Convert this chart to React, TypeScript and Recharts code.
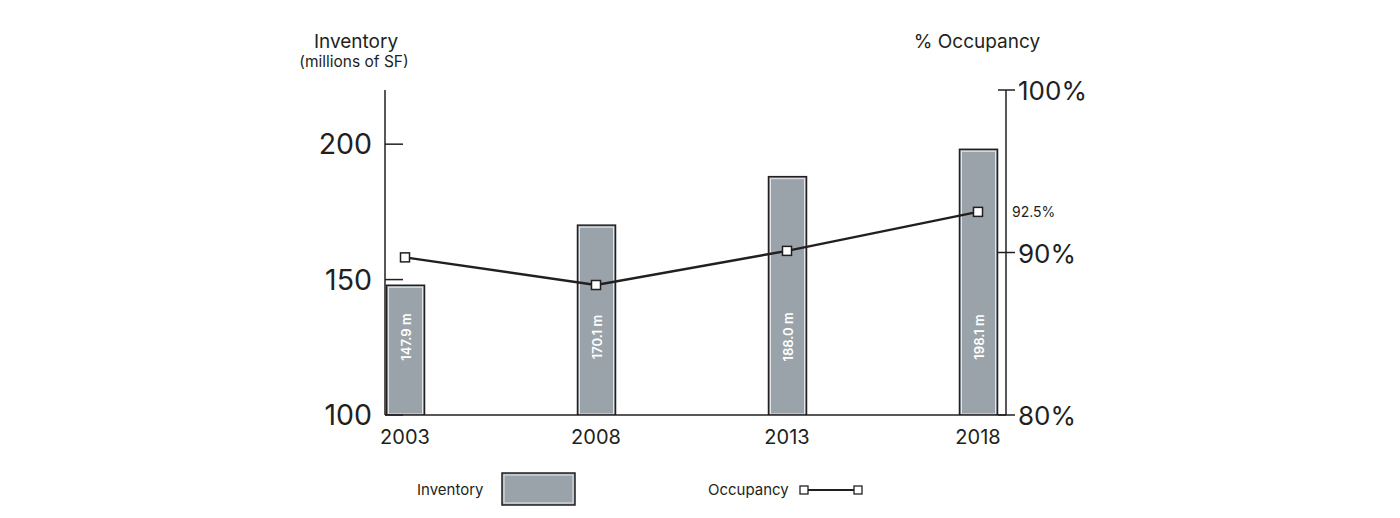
import React from 'react';
import { ComposedChart, Bar, Line, XAxis, YAxis } from 'recharts';

// Data
const years = [2003, 2008, 2013, 2018];
const inventory = [147.9, 170.1, 188.0, 198.1]; // millions of SF
const occupancy = [89.7, 88.0, 90.1, 92.5]; // percent
const inventoryTicks = [100, 150, 200];
const occupancyTicks = [80, 90, 100];

const data = years.map((year, i) => ({
  year,
  inventory: inventory[i],
  occupancy: occupancy[i],
}));

const INK = '#231f20';
const BAR = '#9ba3aa';
const BAR_EDGE = '#e2e7eb';
const FONT = 'Inter, "Noto Sans", Arial, sans-serif';

// Bar with dark outline, thin light inner edge and a rotated value label
const InventoryBar = (props: any) => {
  const { x, y, width, height, payload } = props;
  const cx = x + width / 2;
  const cy = y + height - 78;
  return (
    <g>
      <rect x={x} y={y} width={width} height={height} fill={BAR} stroke={INK} strokeWidth={1.5} />
      <rect x={x + 2} y={y + 2} width={width - 4} height={height - 3} fill="none" stroke={BAR_EDGE} strokeWidth={1} />
      <text
        x={cx}
        y={cy}
        transform={`rotate(-90 ${cx} ${cy})`}
        textAnchor="middle"
        dominantBaseline="central"
        fill="#fff"
        fontSize={13}
        fontWeight={600}
        fontFamily={FONT}
      >
        {`${payload.inventory.toFixed(1)} m`}
      </text>
    </g>
  );
};

// Open square marker; the last point also carries its value
const SquareDot = (props: any) => {
  const { cx, cy, index, payload } = props;
  const last = index === years.length - 1;
  return (
    <g key={`dot-${index}`}>
      <rect x={cx - 4.5} y={cy - 4.5} width={9} height={9} fill="#fff" stroke={INK} strokeWidth={1.5} />
      {last && (
        <text x={cx + 34} y={cy} dy="0.35em" fill={INK} fontSize={14} fontFamily={FONT}>
          {`${payload.occupancy}%`}
        </text>
      )}
    </g>
  );
};

// Right axis ticks cross the axis line
const OccupancyTick = (props: any) => {
  const { x, y, payload } = props;
  return (
    <g>
      <line x1={x - 20} x2={x - 3} y1={y} y2={y} stroke={INK} strokeWidth={1.5} />
      <text x={x} y={y} dy="0.4em" fill={INK} fontSize={26} fontFamily={FONT}>
        {`${payload.value}%`}
      </text>
    </g>
  );
};

export default function App() {
  return (
    <div style={{ position: 'absolute', left: 0, top: 0, width: 1400, height: 518, background: '#fff' }}>
      <ComposedChart
        width={1400}
        height={518}
        data={data}
        margin={{ top: 90, right: 0, left: 0, bottom: 0 }}
      >
        <XAxis
          dataKey="year"
          type="number"
          domain={['dataMin', 'dataMax']}
          padding={{ left: 20, right: 28 }}
          ticks={years}
          interval={0}
          height={103}
          tickLine={false}
          tickSize={0}
          tickMargin={15}
          axisLine={{ stroke: INK, strokeWidth: 1.5 }}
          tick={{ fill: INK, fontSize: 20, fontFamily: FONT }}
        />
        <YAxis
          yAxisId="inv"
          orientation="left"
          width={385}
          domain={[100, 220]}
          ticks={inventoryTicks}
          allowDataOverflow
          tickSize={-18}
          tickMargin={31}
          axisLine={{ stroke: INK, strokeWidth: 1.5 }}
          tickLine={{ stroke: INK, strokeWidth: 1.5 }}
          tick={{ fill: INK, fontSize: 28.5, fontFamily: FONT }}
        />
        <YAxis
          yAxisId="occ"
          orientation="right"
          width={394}
          domain={[80, 100]}
          ticks={occupancyTicks}
          allowDataOverflow
          tickSize={9}
          tickMargin={3}
          tickLine={false}
          axisLine={{ stroke: INK, strokeWidth: 1.5 }}
          tick={<OccupancyTick />}
        />
        <Bar
          yAxisId="inv"
          dataKey="inventory"
          barSize={38}
          shape={<InventoryBar />}
          isAnimationActive={false}
        />
        <Line
          yAxisId="occ"
          dataKey="occupancy"
          type="linear"
          stroke={INK}
          strokeWidth={2.5}
          dot={<SquareDot />}
          activeDot={false}
          isAnimationActive={false}
        />
      </ComposedChart>

      <svg
        width={1400}
        height={518}
        style={{ position: 'absolute', left: 0, top: 0, pointerEvents: 'none' }}
        fontFamily={FONT}
        fill={INK}
      >
        <text x={356} y={48} textAnchor="middle" fontSize={19}>Inventory</text>
        <text x={354} y={67} textAnchor="middle" fontSize={15.5}>(millions of SF)</text>
        <text x={977} y={48} textAnchor="middle" fontSize={19}>% Occupancy</text>

        <text x={417} y={495} fontSize={15}>Inventory</text>
        <rect x={502} y={473} width={73} height={32} fill={BAR} stroke={INK} strokeWidth={1.5} />
        <rect x={504} y={475} width={69} height={28} fill="none" stroke={BAR_EDGE} strokeWidth={1} />

        <text x={708} y={495} fontSize={15}>Occupancy</text>
        <line x1={804} x2={858} y1={490} y2={490} stroke={INK} strokeWidth={2} />
        <rect x={800} y={486} width={8} height={8} fill="#fff" stroke={INK} strokeWidth={1.3} />
        <rect x={854} y={486} width={8} height={8} fill="#fff" stroke={INK} strokeWidth={1.3} />
      </svg>
    </div>
  );
}
